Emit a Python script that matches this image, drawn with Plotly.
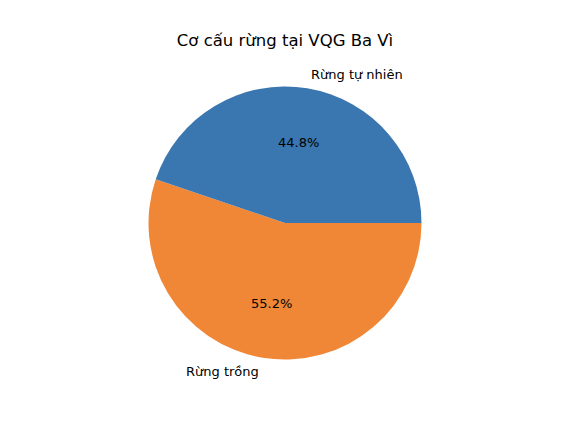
import math
import plotly.graph_objects as go

# Data
labels = ["Rừng tự nhiên", "Rừng trồng"]
values = [44.8, 55.2]
colors = ["#3a76af", "#f08737"]
title = "Cơ cấu rừng tại VQG Ba Vì"

W, H = 572, 432
off = 8  # page body margin of the viewer
cx, cy, r = 285 - off, 223 - off, 136.5  # pie centre / radius in pixels

# first slice runs counterclockwise from 3 o'clock (matplotlib default);
# plotly's clockwise order with reversed lists gives the same layout
fig = go.Figure(go.Pie(
    labels=labels[::-1],
    values=values[::-1],
    sort=False,
    direction="clockwise",
    rotation=90,
    textinfo="none",
    hoverinfo="label+percent",
    marker=dict(colors=colors[::-1], line=dict(width=0)),
    showlegend=False,
    domain=dict(x=[(cx - r) / W, (cx + r) / W], y=[1 - (cy + r) / H, 1 - (cy - r) / H]),
))

# matplotlib-style label placement: labels at 1.1 r, percentages at 0.6 r
total = sum(values)
start = 0.0
annotations = []
for lab, v in zip(labels, values):
    frac = v / total
    mid = math.radians((start + frac / 2) * 360)
    start += frac
    cs, sn = math.cos(mid), math.sin(mid)
    annotations.append(dict(
        x=(cx + 1.1 * r * cs) / W, y=1 - (cy - 1.1 * r * sn) / H,
        xref="paper", yref="paper", text=lab, showarrow=False,
        xanchor="left" if cs >= 0 else "right", yanchor="middle",
        font=dict(size=13, color="black"),
    ))
    annotations.append(dict(
        x=(cx + 0.6 * r * cs) / W, y=1 - (cy - 0.6 * r * sn) / H,
        xref="paper", yref="paper", text=f"{frac * 100:.1f}%", showarrow=False,
        xanchor="center", yanchor="middle",
        font=dict(size=13, color="black"),
    ))

fig.update_layout(
    width=W, height=H,
    margin=dict(l=0, r=0, t=0, b=0),
    paper_bgcolor="white",
    font=dict(family="DejaVu Sans"),
    title=dict(text=title, x=cx / W, xanchor="center", y=1 - (40 - off) / H, yanchor="middle",
               font=dict(size=16.5, color="black")),
    annotations=annotations,
)

fig.write_html("out.html")
